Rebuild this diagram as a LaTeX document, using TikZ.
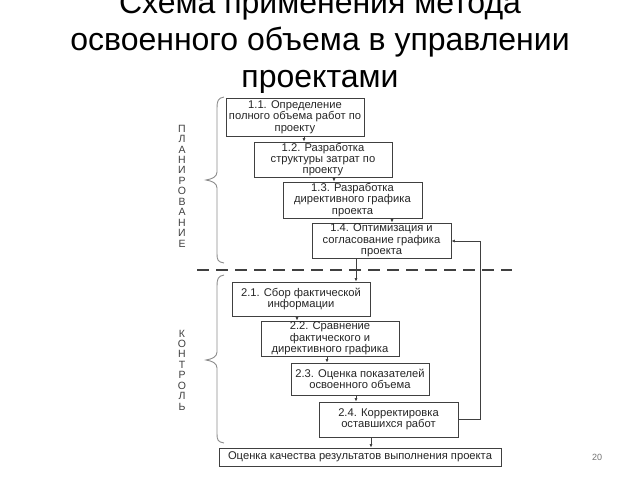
\documentclass[tikz,border=0pt]{standalone}
\usepackage{fontspec}
\setmainfont{Liberation Sans}
\usetikzlibrary{arrows.meta}
\definecolor{ln}{gray}{0.25}
\definecolor{brc}{gray}{0.55}
\tikzset{
  stepbox/.style={draw=ln, line width=0.8pt, align=center, inner sep=0pt,
    font=\fontsize{11.2}{11.4}\selectfont, text=black!85},
  arr/.style={draw=ln, line width=0.8pt, -{Latex[length=3.5pt,width=3pt]}},
  brace/.style={draw=brc, line width=0.9pt},
  vlet/.style={align=center, font=\fontsize{10.5}{10.45}\selectfont, text=black!75},
  ttl/.style={anchor=base, font=\fontsize{32}{37}\selectfont, text=black}
}
\begin{document}
\begin{tikzpicture}[x=1pt,y=-1pt]
\useasboundingbox (0,0) rectangle (640,480);
\fill[white] (0,0) rectangle (640,480);
% title
\node[ttl] (t1) at (320,13) {Схема применения метода};
\node[ttl] (t2) at (320,50) {освоенного объема в управлении};
\node[ttl] (t3) at (320,87) {проектами};
\fill[white] (168,93) rectangle (520,472);
% boxes
\node[stepbox, minimum width=138pt, minimum height=38pt] (b11) at (295,117) {1.1. Определение\\полного объема работ по\\проекту};
\node[stepbox, minimum width=138pt, minimum height=35pt] (b12) at (323,159.5) {1.2. Разработка\\структуры затрат по\\проекту};
\node[stepbox, minimum width=139pt, minimum height=36pt] (b13) at (352.5,200) {1.3. Разработка\\директивного графика\\проекта};
\node[stepbox, minimum width=139pt, minimum height=35pt] (b14) at (381.5,240.5) {1.4. Оптимизация и\\согласование графика\\проекта};
\node[stepbox, minimum width=138pt, minimum height=34pt] (b21) at (301,299) {2.1. Сбор фактической\\информации};
\node[stepbox, minimum width=138pt, minimum height=35pt] (b22) at (330,338.5) {2.2. Сравнение\\фактического и\\директивного графика};
\node[stepbox, minimum width=138pt, minimum height=32pt] (b23) at (360,379) {2.3. Оценка показателей\\освоенного объема};
\node[stepbox, minimum width=139pt, minimum height=35pt] (b24) at (388.5,419.5) {2.4. Корректировка\\оставшихся работ};
\node[stepbox, minimum width=282pt, minimum height=18pt] (fin) at (360,457) {Оценка качества результатов выполнения проекта};
% arrows
\draw[arr] ([xshift=9pt]b11.south) -- ([xshift=9pt]b11.south |- b12.north);
\draw[arr] ([xshift=11pt]b12.south) -- ([xshift=11pt]b12.south |- b13.north);
\draw[arr] ([xshift=39.5pt]b13.south) -- ([xshift=39.5pt]b13.south |- b14.north);
\draw[arr] ([xshift=-25.5pt]b14.south) -- ([xshift=-25.5pt]b14.south |- b21.north);
\draw[arr] ([xshift=-4pt]b21.south) -- ([xshift=-4pt]b21.south |- b22.north);
\draw[arr] ([xshift=-3pt]b22.south) -- ([xshift=-3pt]b22.south |- b23.north);
\draw[arr] ([xshift=-4pt]b23.south) -- ([xshift=-4pt]b23.south |- b24.north);
\draw[arr] ([xshift=-17.5pt]b24.south) -- ([xshift=-17.5pt]b24.south |- fin.north);
\coordinate (fb1) at (480,419.5);
\coordinate (fb2) at (480,241);
\draw[arr] (b24.east) -- (fb1) -- (fb2) -- (b14.east |- fb2);
% dashed separator
\coordinate (d1) at (197,270);
\coordinate (d2) at (512,270);
\draw[draw=ln, line width=2.2pt, dash pattern=on 12pt off 7pt] (d1) -- (d2);
% braces
\draw[brace] (224,97) .. controls (218,98) and (217,101) .. (217,108)
  -- (217,172) .. controls (217,177) and (212,179) .. (206,180)
  .. controls (212,181) and (217,183) .. (217,188)
  -- (217,254) .. controls (217,260) and (218,262) .. (224,263);
\draw[brace] (224,275) .. controls (218,276) and (217,279) .. (217,286)
  -- (217,352) .. controls (217,357) and (212,359) .. (206,360)
  .. controls (212,361) and (217,363) .. (217,368)
  -- (217,434) .. controls (217,440) and (218,442) .. (224,443);
% vertical labels
\node[vlet] (plan) at (182,186) {П\\Л\\А\\Н\\И\\Р\\О\\В\\А\\Н\\И\\Е};
\node[vlet] (ctrl) at (182,370) {К\\О\\Н\\Т\\Р\\О\\Л\\Ь};
% page number
\node[font=\fontsize{9}{10}\selectfont, text=black!55] (pg) at (597,457) {20};
\end{tikzpicture}
\end{document}
